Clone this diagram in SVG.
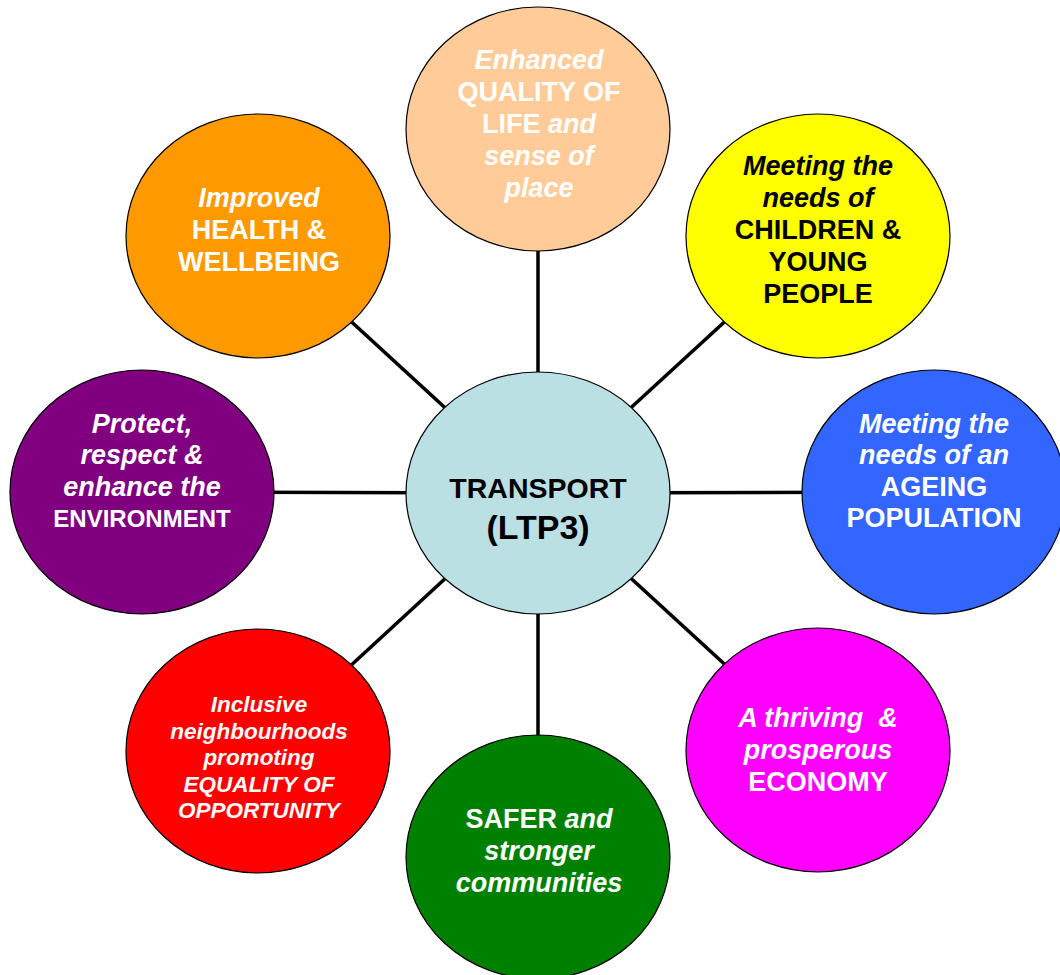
<svg xmlns="http://www.w3.org/2000/svg" width="1060" height="975" viewBox="0 0 1060 975">
<style>
.n{stroke:#000;stroke-width:1.2}
.c{stroke:#000;stroke-width:3.5}
text{font-family:"Liberation Sans",Arial,sans-serif;font-weight:bold;text-anchor:middle;font-size:27px;fill:#fff}
.i{font-style:italic}
.k{fill:#000}
.s{font-size:24px}
.r{font-size:22.5px;font-style:italic}
</style>
<rect width="1060" height="975" fill="#fff"/>
<g id="connectors">
<line class="c" x1="538" y1="493" x2="538" y2="129"/>
<line class="c" x1="538" y1="493" x2="538" y2="856"/>
<line class="c" x1="538" y1="493" x2="142" y2="492"/>
<line class="c" x1="538" y1="493" x2="934" y2="492"/>
<line class="c" x1="538" y1="493" x2="258" y2="236"/>
<line class="c" x1="538" y1="493" x2="818" y2="236"/>
<line class="c" x1="538" y1="493" x2="258" y2="751"/>
<line class="c" x1="538" y1="493" x2="818" y2="750"/>
</g>
<g id="quality">
<ellipse class="n" cx="538" cy="129" rx="132" ry="122" fill="#FFCC99"/>
<text x="539" y="69" class="i">Enhanced</text>
<text x="539" y="101">QUALITY OF</text>
<text x="539" y="133">LIFE <tspan class="i">and</tspan></text>
<text x="539" y="165" class="i">sense of</text>
<text x="539" y="197" class="i">place</text>
</g>
<g id="health">
<ellipse class="n" cx="258" cy="236" rx="132" ry="122" fill="#FF9900"/>
<text x="259" y="207" class="i">Improved</text>
<text x="259" y="239">HEALTH &amp;</text>
<text x="259" y="271">WELLBEING</text>
</g>
<g id="children">
<ellipse class="n" cx="818" cy="236" rx="132" ry="122" fill="#FFFF00"/>
<text x="818" y="175" class="i k">Meeting the</text>
<text x="818" y="207" class="i k">needs of</text>
<text x="818" y="239" class="k">CHILDREN &amp;</text>
<text x="818" y="271" class="k">YOUNG</text>
<text x="818" y="303" class="k">PEOPLE</text>
</g>
<g id="environment">
<ellipse class="n" cx="142" cy="492" rx="132" ry="122" fill="#800080"/>
<text x="142" y="433" class="i">Protect,</text>
<text x="142" y="464" class="i">respect &amp;</text>
<text x="142" y="496" class="i">enhance the</text>
<text x="142" y="527" class="s">ENVIRONMENT</text>
</g>
<g id="transport">
<ellipse class="n" cx="538" cy="493" rx="132" ry="121" fill="#BBE0E3"/>
<text x="538" y="498" class="k" style="font-size:28.5px">TRANSPORT</text>
<text x="538" y="539" class="k" style="font-size:34px">(LTP3)</text>
</g>
<g id="ageing">
<ellipse class="n" cx="934" cy="492" rx="132" ry="122" fill="#3366FF"/>
<text x="934" y="433" class="i">Meeting the</text>
<text x="934" y="464" class="i">needs of an</text>
<text x="934" y="496">AGEING</text>
<text x="934" y="527">POPULATION</text>
</g>
<g id="equality">
<ellipse class="n" cx="258" cy="751" rx="132" ry="122" fill="#FF0000"/>
<text x="259" y="712" class="r">Inclusive</text>
<text x="259" y="739" class="r">neighbourhoods</text>
<text x="259" y="765" class="r">promoting</text>
<text x="259" y="792" class="r">EQUALITY OF</text>
<text x="259" y="818" class="r">OPPORTUNITY</text>
</g>
<g id="economy">
<ellipse class="n" cx="818" cy="750" rx="132" ry="122" fill="#FF00FF"/>
<text x="818" y="727" class="i" xml:space="preserve">A thriving  &amp;</text>
<text x="818" y="759" class="i">prosperous</text>
<text x="818" y="791">ECONOMY</text>
</g>
<g id="safer">
<ellipse class="n" cx="538" cy="857" rx="132" ry="122" fill="#008000"/>
<text x="539" y="828">SAFER <tspan class="i">and</tspan></text>
<text x="539" y="860" class="i">stronger</text>
<text x="539" y="892" class="i">communities</text>
</g>
</svg>
